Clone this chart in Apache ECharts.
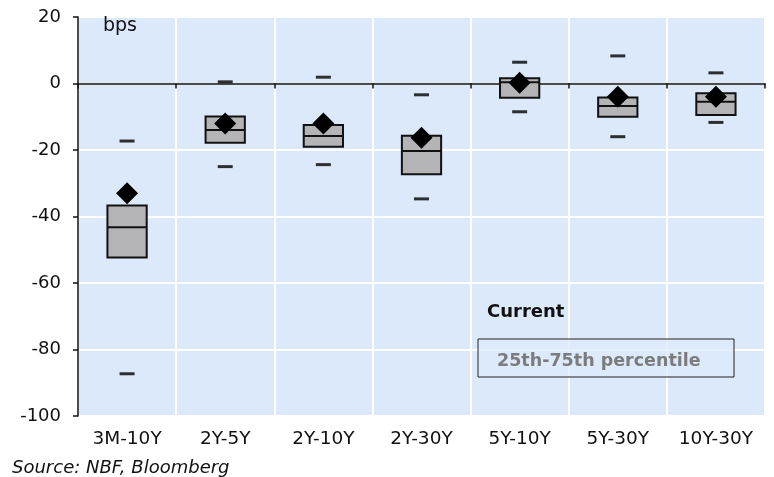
<!DOCTYPE html>
<html>
<head>
<meta charset="utf-8">
<script src="https://cdn.jsdelivr.net/npm/echarts@6/dist/echarts.min.js"></script>
<style>
  html, body { margin: 0; padding: 0; background: #fff; }
  #chart { width: 774px; height: 477px; }
</style>
</head>
<body>
<div id="chart"></div>
<script>
const categories = ["3M-10Y", "2Y-5Y", "2Y-10Y", "2Y-30Y", "5Y-10Y", "5Y-30Y", "10Y-30Y"];
const current = [-33.0, -12.0, -12.0, -16.3, 0.2, -4.0, -4.0];
const p25 = [-52.3, -17.8, -19.0, -27.3, -4.3, -10.0, -9.5];
const median = [-43.2, -14.0, -15.8, -20.3, 0.4, -6.8, -5.5];
const p75 = [-36.7, -9.9, -12.5, -15.7, 1.6, -4.2, -2.9];
const highs = [-17.3, 0.5, 1.9, -3.4, 6.4, 8.3, 3.2];
const lows = [-87.3, -25.0, -24.4, -34.7, -8.5, -16.0, -11.7];
const yTicks = { min: -100, max: 20, step: 20 };

const font = "'DejaVu Sans', Verdana, sans-serif";
const chart = echarts.init(document.getElementById("chart"));

const boxData = categories.map((c, i) => [i, p25[i], median[i], p75[i]]);

// box = 25th..75th percentile with a median bar
const renderBox = (params, api) => {
  const i = api.value(0);
  const lo = api.coord([i, api.value(1)]);
  const mid = api.coord([i, api.value(2)]);
  const hi = api.coord([i, api.value(3)]);
  const w = api.size([1, 0])[0] * 0.4;
  const x0 = lo[0] - w / 2;
  return {
    type: "group",
    children: [
      {
        type: "rect",
        shape: { x: x0, y: hi[1], width: w, height: lo[1] - hi[1] },
        style: { fill: "#b4b4b6", stroke: "#111", lineWidth: 2 },
      },
      {
        type: "line",
        shape: { x1: x0, y1: mid[1], x2: x0 + w, y2: mid[1] },
        style: { stroke: "#111", lineWidth: 2 },
      },
    ],
  };
};

chart.setOption({
  animation: false,
  textStyle: { fontFamily: font },
  grid: {
    left: 78, right: 9, top: 17, bottom: 61,
    show: true, backgroundColor: "#dce9fb", borderWidth: 0,
  },
  xAxis: [
    {
      type: "category",
      data: categories,
      position: "bottom",
      axisLine: { onZero: true, lineStyle: { color: "#111", width: 1.5 } },
      axisTick: { show: true, length: 5, interval: 0, lineStyle: { color: "#111", width: 1.5 } },
      axisLabel: { show: false },
      splitLine: { show: true, interval: 0, lineStyle: { color: "#ffffff", width: 2 } },
    },
    {
      type: "category",
      data: categories,
      position: "bottom",
      axisLine: { show: false, onZero: false },
      axisTick: { show: false },
      axisLabel: { show: true, interval: 0, color: "#111", fontSize: 18.5, margin: 14, fontFamily: font },
      splitLine: { show: false },
    },
  ],
  yAxis: {
    type: "value",
    min: yTicks.min,
    max: yTicks.max,
    interval: yTicks.step,
    axisLine: { show: true, onZero: false, lineStyle: { color: "#111", width: 1.5 } },
    axisTick: { show: true, length: 5, lineStyle: { color: "#111", width: 1.5 } },
    axisLabel: { color: "#111", fontSize: 18, margin: 17, fontFamily: font },
    splitLine: { show: true, lineStyle: { color: "#ffffff", width: 2 } },
  },
  series: [
    {
      type: "custom",
      renderItem: renderBox,
      data: boxData,
      encode: { x: 0, y: [1, 2, 3] },
      z: 2,
    },
    {
      type: "scatter",
      data: highs,
      symbol: "rect",
      symbolSize: [15, 3],
      itemStyle: { color: "#000" },
      z: 3,
    },
    {
      type: "scatter",
      data: lows,
      symbol: "rect",
      symbolSize: [15, 3],
      itemStyle: { color: "#000" },
      z: 3,
    },
    {
      type: "scatter",
      data: current,
      symbol: "diamond",
      symbolSize: [22, 22],
      itemStyle: { color: "#000", opacity: 1 },
      z: 4,
    },
  ],
  graphic: [
    {
      type: "text", left: 103, top: 17, z: 100,
      style: { text: "bps", fontSize: 19, fill: "#111", fontFamily: font },
    },
    {
      type: "text", left: 487, top: 303, z: 100,
      style: { text: "Current", fontSize: 18, fontWeight: "bold", fill: "#111", fontFamily: font },
    },
    {
      type: "rect", z: 100,
      shape: { x: 478, y: 339, width: 256, height: 38 },
      style: { fill: "rgba(220,233,251,0.7)", stroke: "#222", lineWidth: 1 },
    },
    {
      type: "text", left: 497, top: 352, z: 101,
      style: { text: "25th-75th percentile", fontSize: 17.5, fontWeight: "bold", fill: "#7c7c7c", fontFamily: font },
    },
    {
      type: "text", left: 12, top: 459, z: 100,
      style: { text: "Source: NBF, Bloomberg", fontSize: 18, fontStyle: "italic", fill: "#111", fontFamily: font },
    },
  ],
});
</script>
</body>
</html>
